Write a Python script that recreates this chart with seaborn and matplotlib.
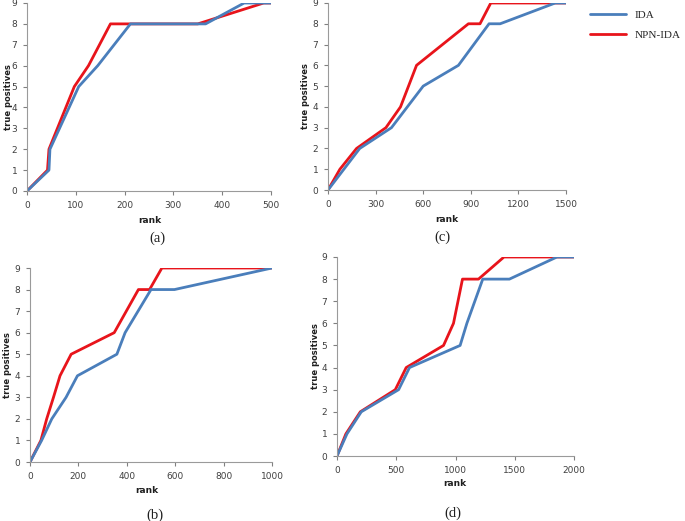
import matplotlib
matplotlib.use("Agg")
import matplotlib.pyplot as plt
import seaborn as sns

# panel (a)
a_ida_rank = [0, 45, 47, 106, 145, 212, 366, 445, 500]
a_ida_tp = [0, 1, 2, 5, 6, 8, 8, 9, 9]
a_npn_rank = [0, 42, 45, 97, 126, 171, 210, 350, 485, 500]
a_npn_tp = [0, 1, 2, 5, 6, 8, 8, 8, 9, 9]

# panel (b)
b_ida_rank = [0, 48, 90, 149, 196, 359, 393, 500, 597, 1000]
b_ida_tp = [0, 1, 2, 3, 4, 5, 6, 8, 8, 9]
b_npn_rank = [0, 45, 69, 97, 124, 170, 348, 448, 494, 545, 1000]
b_npn_tp = [0, 1, 2, 3, 4, 5, 6, 8, 8, 9, 9]

# panel (c)
c_ida_rank = [0, 100, 200, 400, 600, 822, 1015, 1085, 1432, 1500]
c_ida_tp = [0, 1, 2, 3, 5, 6, 8, 8, 9, 9]
c_npn_rank = [0, 75, 180, 365, 457, 558, 885, 958, 1026, 1500]
c_npn_tp = [0, 1, 2, 3, 4, 6, 8, 8, 9, 9]

# panel (d)
d_ida_rank = [0, 84, 205, 520, 612, 1039, 1096, 1230, 1455, 1856, 2000]
d_ida_tp = [0, 1, 2, 3, 4, 5, 6, 8, 8, 9, 9]
d_npn_rank = [0, 75, 197, 492, 584, 899, 983, 1059, 1194, 1409, 2000]
d_npn_tp = [0, 1, 2, 3, 4, 5, 6, 8, 8, 9, 9]

x_ticks = {
    "a": [0, 100, 200, 300, 400, 500],
    "b": [0, 200, 400, 600, 800, 1000],
    "c": [0, 300, 600, 900, 1200, 1500],
    "d": [0, 500, 1000, 1500, 2000],
}
y_ticks = list(range(10))

IDA_COLOR = "#4A7EBB"
NPN_COLOR = "#E8141B"

W, H = 685, 521

sns.set_style("white")
plt.rcParams["font.family"] = ["DejaVu Sans"]

fig = plt.figure(figsize=(W / 100, H / 100), dpi=100)


def px_axes(left, top, right, bottom):
    return fig.add_axes([left / W, 1 - bottom / H, (right - left) / W, (bottom - top) / H])


panels = [
    # key, box (l, t, r, b), ylabel x px, rank (x, y), caption (x, y), data
    ("a", (27, 3, 271, 191), 13, (150, 216), (157, 238),
     (a_ida_rank, a_ida_tp, a_npn_rank, a_npn_tp)),
    ("c", (328, 3, 566, 190), 310, (447, 215), (442, 237),
     (c_ida_rank, c_ida_tp, c_npn_rank, c_npn_tp)),
    ("b", (30, 268, 272, 462), 12, (147, 486), (155, 515),
     (b_ida_rank, b_ida_tp, b_npn_rank, b_npn_tp)),
    ("d", (337, 257, 574, 456), 320, (455, 479), (453, 513),
     (d_ida_rank, d_ida_tp, d_npn_rank, d_npn_tp)),
]

for key, box, ylab_x, rank_xy, cap_xy, data in panels:
    l, t, r, b = box
    ax = px_axes(l, t, r, b)
    ida_x, ida_y, npn_x, npn_y = data
    # red first so the blue line sits on top where they overlap
    sns.lineplot(x=npn_x, y=npn_y, ax=ax, color=NPN_COLOR, lw=2.0,
                 sort=False, estimator=None)
    sns.lineplot(x=ida_x, y=ida_y, ax=ax, color=IDA_COLOR, lw=2.0,
                 sort=False, estimator=None)

    ax.set_xlim(0, x_ticks[key][-1])
    ax.set_ylim(0, 9)
    ax.set_xticks(x_ticks[key])
    ax.set_yticks(y_ticks)
    ax.tick_params(axis="both", labelsize=6.5, colors="#808080", labelcolor="#404040",
                   length=3, width=0.8, direction="out", bottom=True, left=True, pad=4)
    for side in ("top", "right"):
        ax.spines[side].set_visible(False)
    for side in ("left", "bottom"):
        ax.spines[side].set_color("#9A9A9A")
        ax.spines[side].set_linewidth(0.8)

    ax.set_ylabel("true positives", fontsize=6, fontweight="bold", color="#202020")
    ax.yaxis.set_label_coords((ylab_x - l) / (r - l), 0.5)
    ax.set_xlabel("rank", fontsize=6.5, fontweight="bold", color="#202020")
    ax.xaxis.set_label_coords((rank_xy[0] - l) / (r - l), (b - rank_xy[1]) / (b - t))

    fig.text(cap_xy[0] / W, 1 - cap_xy[1] / H, f"({key})", ha="center", va="center",
             fontsize=10.5, family="Liberation Serif", color="#202020")

# legend at the top right
fig.legend(handles=[plt.Line2D([], [], color=IDA_COLOR, lw=2.0),
                    plt.Line2D([], [], color=NPN_COLOR, lw=2.0)],
           labels=["IDA", "NPN-IDA"], loc="upper left",
           bbox_to_anchor=(580 / W, 1 - 0 / H), frameon=False,
           prop={"family": "Liberation Serif", "size": 8},
           handlelength=3.2, labelspacing=0.9, handletextpad=0.8)

fig.savefig("out.png", dpi=100)
